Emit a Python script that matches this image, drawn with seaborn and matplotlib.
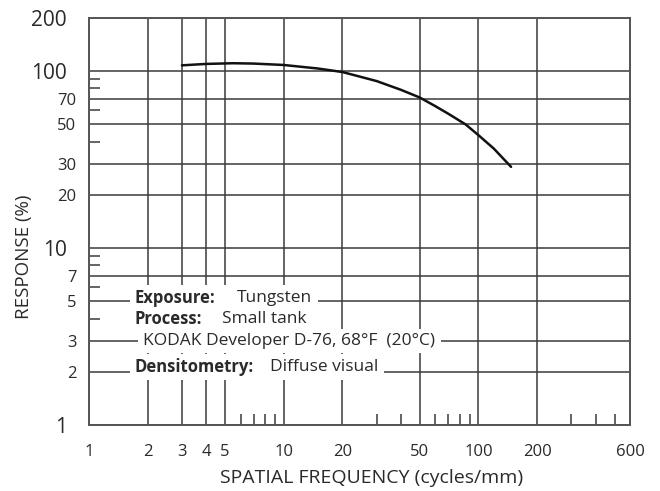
import numpy as np
import pandas as pd
import seaborn as sns
import matplotlib.pyplot as plt
from matplotlib.transforms import Bbox
from matplotlib.patches import Rectangle

# MTF curve
freq = [3, 4, 5.5, 7, 10, 15, 20, 30, 40, 50, 60, 70, 86, 100, 120, 147]
response = [108, 110, 111, 110.5, 108.5, 103.6, 99, 88, 78.5, 71, 63.5, 57.5, 50, 43.5, 36.5, 28.8]

x_major = [1, 2, 3, 4, 5, 10, 20, 50, 100, 200, 600]
x_minor = [6, 7, 8, 9, 30, 40, 60, 70, 80, 90, 300, 400, 500]
y_major = [1, 2, 3, 5, 7, 10, 20, 30, 50, 70, 100, 200]
y_minor = [4, 6, 8, 9, 40, 60, 80, 90]
y_big = [1, 10, 100, 200]

# (bold label, value, y level)
notes = [
    ("Exposure:", "Tungsten", 5.2),
    ("Process:", "Small tank", 3.96),
    ("", "KODAK Developer D-76, 68°F  (20°C)", 2.97),
    ("Densitometry:", "Diffuse visual", 2.12),
]
# where each piece starts, as a fraction of the axes width
label_x = 0.085
value_x = [0.2736, 0.2458, 0.0998, 0.3346]

sns.set_theme(style="white")
plt.rcParams["font.family"] = ["Open Sans", "DejaVu Sans"]

grid_col = "#3a3a3a"
text_col = "#2a2a2a"

fig = plt.figure(figsize=(6.6, 4.91), dpi=100)
ax = fig.add_axes([89 / 660, 1 - 425 / 491, 541 / 660, 407 / 491])

df = pd.DataFrame({"freq": freq, "response": response})
sns.lineplot(data=df, x="freq", y="response", ax=ax, color="#111111", lw=1.8, zorder=5)

ax.set_xscale("log")
ax.set_yscale("log")
ax.set_xlim(1, 600)
ax.set_ylim(1, 200)

ax.set_xticks(x_major)
ax.set_xticklabels([str(v) for v in x_major])
ax.set_xticks(x_minor, minor=True)
ax.set_xticklabels([], minor=True)
ax.set_yticks(y_major)
ax.set_yticklabels([str(v) for v in y_major])
ax.set_yticks(y_minor, minor=True)
ax.set_yticklabels([], minor=True)

ax.tick_params(which="both", bottom=True, left=True)
ax.tick_params(which="major", length=0, labelsize=12, labelcolor=text_col)
ax.tick_params(axis="x", which="major", pad=14)
ax.tick_params(which="minor", direction="in", length=8, width=1.1, color=grid_col)

for tick, v in zip(ax.yaxis.get_major_ticks(), y_major):
    if v in y_big:
        tick.label1.set_fontsize(15)
        tick.set_pad(16)
    else:
        tick.set_pad(9)

ax.set_axisbelow(True)
ax.grid(True, which="major", color=grid_col, lw=1.1)
for s in ax.spines.values():
    s.set_color("#555555")
    s.set_linewidth(1.4)

ax.set_xlabel("SPATIAL FREQUENCY (cycles/mm)", fontsize=14, color=text_col)
ax.set_ylabel("RESPONSE (%)", fontsize=13.5, color=text_col)
ax.xaxis.set_label_coords(0.523, -0.108)
ax.yaxis.set_label_coords(-0.104, 0.414)

trans = ax.get_yaxis_transform()
rows = []
for (label, value, yv), vx in zip(notes, value_x):
    pieces = []
    if label:
        pieces.append(ax.text(label_x, yv, label, transform=trans, ha="left", va="center",
                              fontsize=12, fontweight="bold", color=text_col, zorder=4))
    pieces.append(ax.text(vx, yv, value, transform=trans, ha="left", va="center",
                          fontsize=12.5, color=text_col, zorder=4))
    rows.append(pieces)

# white knock-out behind each note row so the grid breaks around the text
fig.canvas.draw()
renderer = fig.canvas.get_renderer()
for pieces in rows:
    bb = Bbox.union([p.get_window_extent(renderer) for p in pieces])
    bb = Bbox.from_extents(bb.x0 - 5, bb.y0 - 4, bb.x1 + 6, bb.y1 + 4)
    bb = bb.transformed(ax.transAxes.inverted())
    ax.add_patch(Rectangle((bb.x0, bb.y0), bb.width, bb.height, transform=ax.transAxes,
                           facecolor="white", edgecolor="none", zorder=3))

fig.savefig("out.png", dpi=100)
